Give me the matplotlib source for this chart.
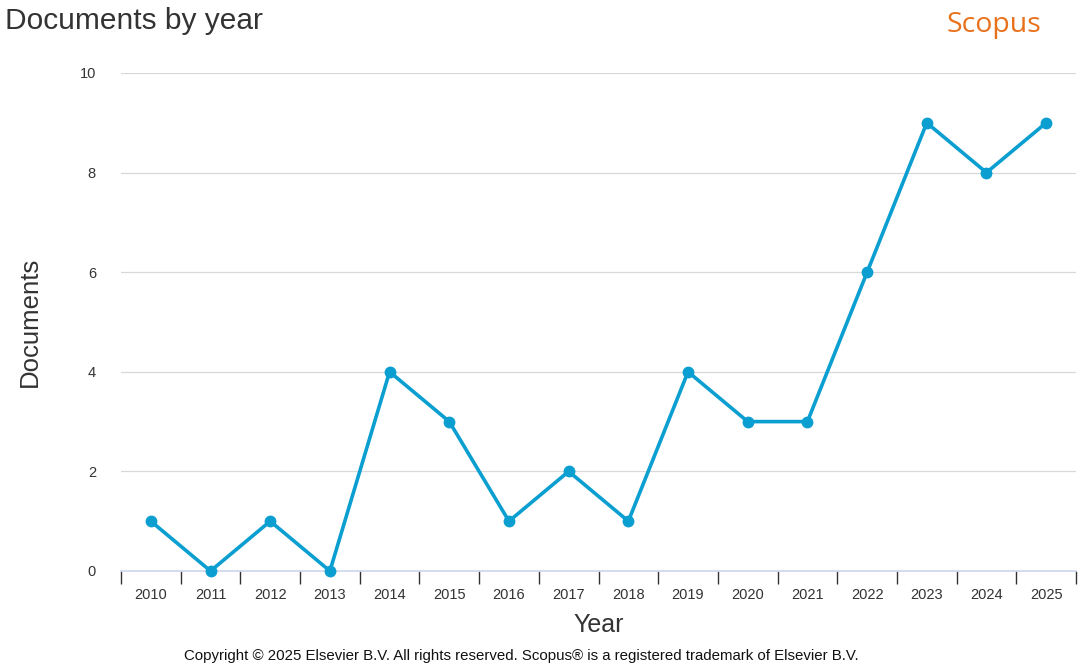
import numpy as np
from matplotlib import pyplot as plt

years = ['2010', '2011', '2012', '2013', '2014', '2015', '2016', '2017',
         '2018', '2019', '2020', '2021', '2022', '2023', '2024', '2025']
documents = [1, 0, 1, 0, 4, 3, 1, 2, 1, 4, 3, 3, 6, 9, 8, 9]
y_ticks = [0, 2, 4, 6, 8, 10]

plt.rcParams['font.family'] = ['Liberation Sans', 'DejaVu Sans']

fig = plt.figure(figsize=(10.82, 6.67), dpi=100)
ax = fig.add_axes([121 / 1082, 96 / 667, 955 / 1082, 498 / 667])

x = np.arange(len(years))
ax.plot(x, documents, color='#0a9fd0', lw=2.6, marker='o', ms=7.5,
        solid_joinstyle='miter', zorder=3, clip_on=False)

ax.set_xlim(-0.5, len(years) - 0.5)
ax.set_ylim(0, 10)

# gridlines
for t in y_ticks[1:]:
    ax.axhline(t, color='#d8d8d8', lw=0.9, zorder=1)
ax.axhline(0, color='#ccd6eb', lw=1.2, zorder=2, clip_on=False)

for s in ax.spines.values():
    s.set_visible(False)

ax.set_yticks(y_ticks)
ax.tick_params(axis='y', length=0, pad=18, labelsize=10.5, labelcolor='#333333')

# category ticks on boundaries, labels in the middle
ax.set_xticks(x)
ax.set_xticklabels(years)
ax.set_xticks(np.arange(len(years) + 1) - 0.5, minor=True)
ax.tick_params(axis='x', which='major', length=0, pad=12.5, labelsize=10.5,
               labelcolor='#333333')
ax.tick_params(axis='x', which='minor', length=9, width=1, color='#333333',
               direction='out')

ax.set_xlabel('Year', fontsize=18, color='#333333', labelpad=8)
ax.set_ylabel('Documents', fontsize=18.5, color='#333333', labelpad=27)

fig.text(5 / 1082, 1 - 21 / 667, 'Documents by year', fontsize=21.5,
         color='#333333', va='center', ha='left')
fig.text(994 / 1082, 1 - 25 / 667, 'Scopus', fontsize=20.5, color='#e9711c',
         va='center', ha='center', family=['Open Sans', 'DejaVu Sans'])
fig.text(521 / 1082, 1 - 656 / 667,
         'Copyright \u00a9 2025 Elsevier B.V. All rights reserved. '
         'Scopus\u00ae is a registered trademark of Elsevier B.V.',
         fontsize=10.85, color='#111111', va='center', ha='center')

fig.savefig('out.png', dpi=100)
